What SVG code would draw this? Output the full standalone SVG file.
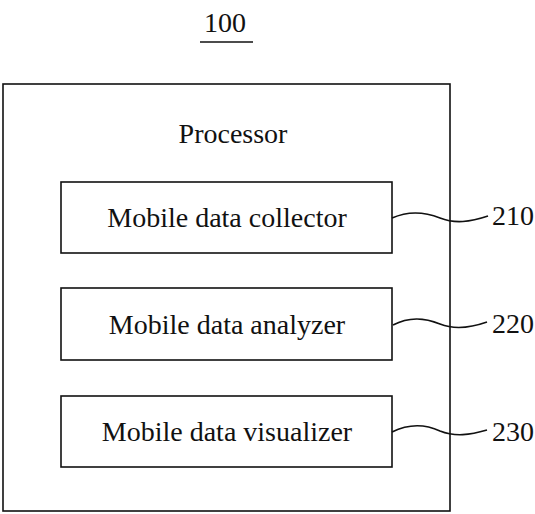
<svg xmlns="http://www.w3.org/2000/svg" width="535" height="514" viewBox="0 0 535 514">
<style>
.t{font-family:"Liberation Serif","Times New Roman",serif;font-size:28px;fill:#111}
.box{fill:none;stroke:#111;stroke-width:1.6}
.lead{fill:none;stroke:#111;stroke-width:1.6}
</style>
<rect width="535" height="514" fill="#fff"/>
<g id="label-100">
<text class="t" x="225" y="32" text-anchor="middle">100</text>
<line x1="200" y1="42" x2="253" y2="42" stroke="#111" stroke-width="1.6"/>
</g>
<g id="processor">
<rect class="box" x="3" y="84" width="447" height="427"/>
<text class="t" x="233" y="143" text-anchor="middle">Processor</text>
</g>
<g id="collector">
<rect class="box" x="61" y="182" width="331" height="71"/>
<text class="t" x="227" y="227" text-anchor="middle">Mobile data collector</text>
</g>
<g id="analyzer">
<rect class="box" x="61" y="288" width="331" height="72"/>
<text class="t" x="227" y="334" text-anchor="middle">Mobile data analyzer</text>
</g>
<g id="visualizer">
<rect class="box" x="61" y="396" width="331" height="71"/>
<text class="t" x="227" y="441" text-anchor="middle">Mobile data visualizer</text>
</g>
<g id="connectors">
<path class="lead" d="M392 218 C410 210 425 212 440 218 C455 224 470 222 488 216"/>
<path class="lead" d="M393 325 C410 316 425 318 440 324 C455 330 470 328 487 322"/>
<path class="lead" d="M392 432 C410 423 425 424 440 431 C455 437 470 435 487 430"/>
</g>
<g id="refs">
<text class="t" x="492" y="225">210</text>
<text class="t" x="492" y="333">220</text>
<text class="t" x="492" y="441">230</text>
</g>
</svg>
